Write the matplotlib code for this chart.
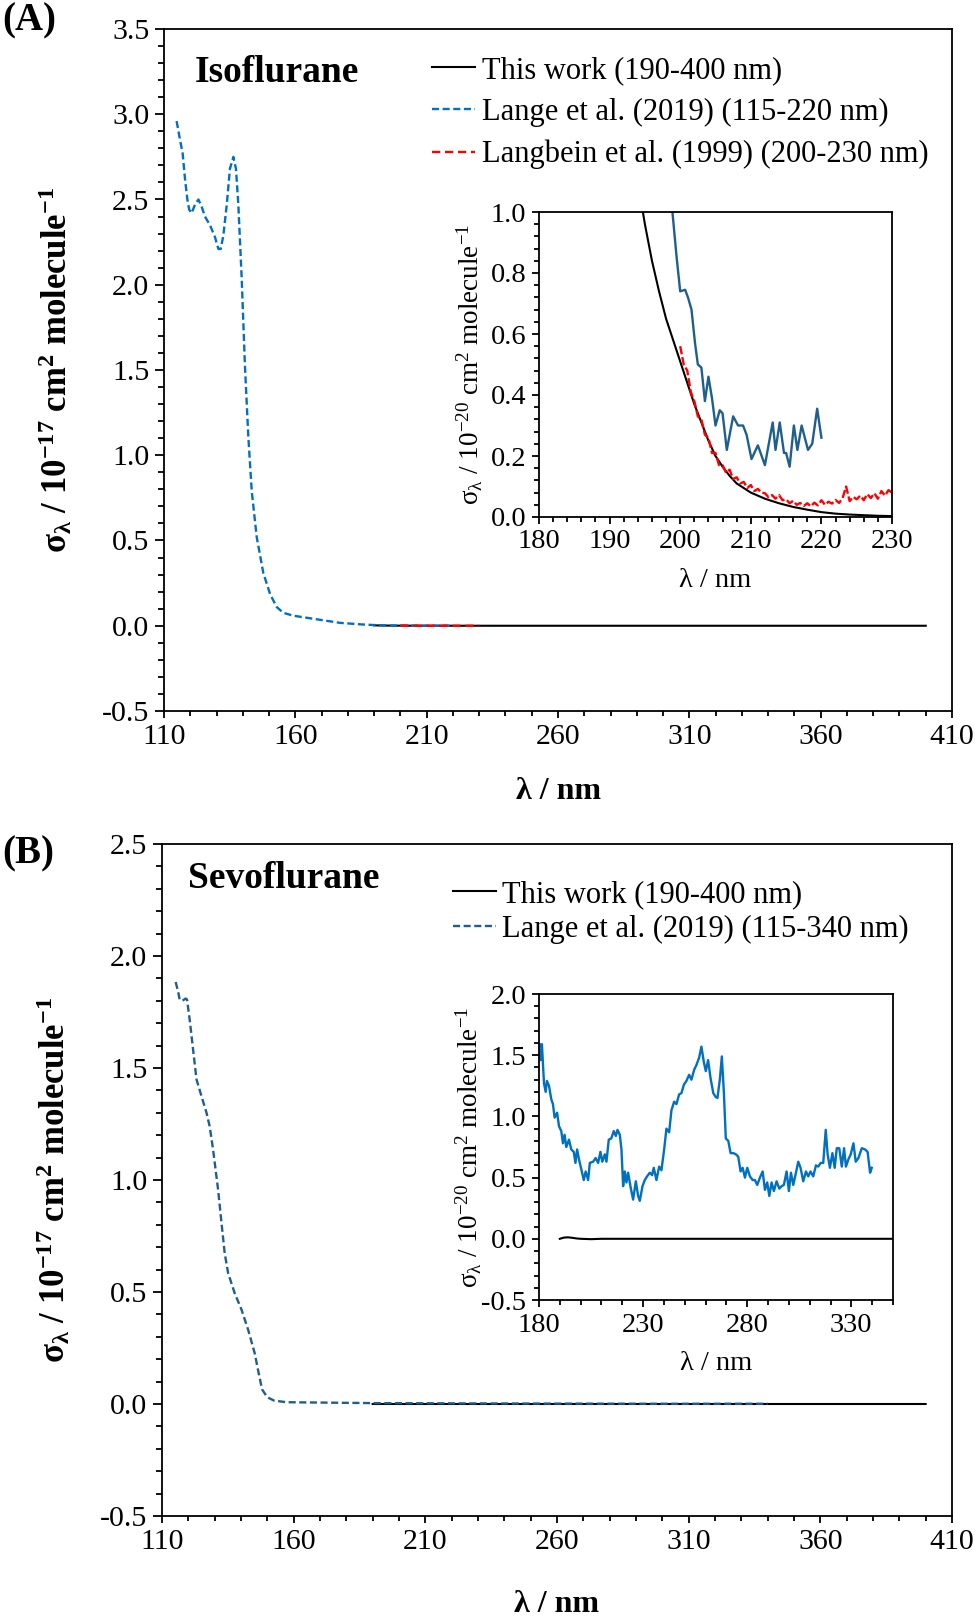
import matplotlib
matplotlib.use("Agg")
import matplotlib.pyplot as plt
from matplotlib.ticker import MultipleLocator, FormatStrFormatter

plt.rcParams['font.family'] = ['Liberation Serif', 'DejaVu Serif']
plt.rcParams['mathtext.fontset'] = 'custom'
plt.rcParams['mathtext.default'] = 'regular'
plt.rcParams['axes.unicode_minus'] = False

# ---------------- data ----------------
# (A) Isoflurane
# this work, units of 1e-20 cm2 molecule-1
iso_this_wl = [190, 192, 194, 195, 196, 197, 198, 199, 200, 201, 202, 203, 204, 205,
               206, 207, 208, 209, 210, 212, 214, 216, 218, 220, 222, 224, 226, 228,
               230, 250, 300, 350, 400]
iso_this = [2.3, 1.6, 1.1, 0.96, 0.84, 0.74, 0.65, 0.58, 0.51, 0.44, 0.37, 0.31, 0.25, 0.20,
            0.165, 0.135, 0.11, 0.095, 0.08, 0.06, 0.045, 0.033, 0.024, 0.016, 0.011, 0.008,
            0.006, 0.004, 0.003, 0.001, 0.0005, 0.0002, 0.0]

# Lange et al. (2019), units of 1e-17
lange_iso_wl = [114.8, 116.1, 117.1, 118.0, 118.9, 119.6, 120.5, 121.8, 123.1, 124.3, 125.6,
                127.5, 129.4, 130.7, 131.6, 132.6, 133.9, 135.1, 136.4, 137.4, 138.3, 139.6,
                140.8, 142.1, 143.4, 145.3, 147.8, 150.4, 152.9, 155.4, 159.2, 168.1, 177.0,
                185, 190, 195, 200, 210, 220]
lange_iso = [2.96, 2.85, 2.77, 2.62, 2.50, 2.44, 2.42, 2.47, 2.50, 2.46, 2.40,
             2.35, 2.28, 2.21, 2.21, 2.29, 2.47, 2.68, 2.75, 2.68, 2.47, 2.03,
             1.53, 1.11, 0.79, 0.52, 0.31, 0.185, 0.11, 0.076, 0.059, 0.038, 0.017,
             0.008, 0.004, 0.002, 0.0008, 0.0003, 0.0003]

# Lange et al. (2019) zoomed, units of 1e-20
lange_iso_zwl = [198.9, 199.5, 200.0, 200.7, 201.1, 201.6, 202.1, 202.5, 203.0, 203.5, 204.0,
                 204.5, 205.0, 205.6, 206.0, 206.6, 207.5, 208.2, 208.9, 209.4, 210.1, 211.0,
                 212.0, 213.1, 213.5, 214.1, 214.7, 215.0, 215.5, 216.1, 216.6, 217.2, 218.1,
                 218.7, 219.4, 220.0]
lange_iso_z = [1.0, 0.85, 0.74, 0.745, 0.72, 0.68, 0.57, 0.50, 0.49, 0.38, 0.46,
               0.39, 0.30, 0.35, 0.34, 0.22, 0.33, 0.30, 0.30, 0.27, 0.19, 0.235,
               0.17, 0.31, 0.22, 0.31, 0.21, 0.21, 0.165, 0.30, 0.22, 0.30, 0.22,
               0.24, 0.355, 0.26]

# Langbein et al. (1999), units of 1e-20
langbein_wl = [200.0, 200.5, 201.0, 201.5, 202.0, 202.5, 203.0, 203.5, 204.0, 204.5, 205.0,
               205.5, 206.0, 206.5, 207.0, 207.5, 208.0, 208.5, 209.0, 209.5, 210.0, 210.5,
               211.0, 211.5, 212.0, 212.5, 213.0, 213.5, 214.0, 214.5, 215.0, 215.5, 216.0,
               216.5, 217.0, 217.5, 218.0, 218.5, 219.0, 219.5, 220.0, 220.5, 221.0, 221.5,
               222.0, 222.5, 223.0, 223.5, 224.0, 224.5, 225.0, 225.5, 226.0, 226.5, 227.0,
               227.5, 228.0, 228.5, 229.0, 229.5, 230.0]
langbein = [0.56, 0.50, 0.48, 0.41, 0.38, 0.33, 0.32, 0.27, 0.26, 0.21, 0.21,
            0.17, 0.17, 0.145, 0.155, 0.125, 0.13, 0.11, 0.115, 0.095, 0.105, 0.085,
            0.092, 0.08, 0.078, 0.065, 0.072, 0.06, 0.072, 0.055, 0.058, 0.045, 0.053,
            0.04, 0.046, 0.036, 0.045, 0.035, 0.047, 0.038, 0.055, 0.04, 0.05, 0.044,
            0.056, 0.046, 0.062, 0.10, 0.052, 0.066, 0.058, 0.07, 0.055, 0.075, 0.062,
            0.078, 0.06, 0.085, 0.07, 0.088, 0.08]

# (B) Sevoflurane
sevo_this_wl = [190, 192, 194, 196, 198, 200, 205, 210, 220, 250, 300, 350, 400]
sevo_this = [0.0, 0.01, 0.012, 0.008, 0.003, 0.0, -0.003, 0.0, 0.0, 0.0, 0.0, 0.0, 0.0]

lange_sevo_wl = [115.2, 116.2, 116.7, 117.7, 119.0, 119.5, 120.5, 121.8, 123.1, 125.0, 126.9,
                 128.1, 129.4, 131.3, 132.6, 133.8, 135.1, 137.6, 140.2, 142.7, 145.2, 146.5,
                 148.0, 150.0, 152.6, 157.3, 173.7, 190, 250, 300, 340]
lange_sevo = [1.884, 1.836, 1.806, 1.80, 1.81, 1.806, 1.717, 1.583, 1.449, 1.374, 1.30,
              1.24, 1.136, 0.957, 0.808, 0.674, 0.585, 0.495, 0.421, 0.332, 0.227, 0.15,
              0.065, 0.03, 0.015, 0.008, 0.006, 0.004, 0.002, 0.001, 0.001]

lange_sevo_zwl = [180.3, 180.8, 181.4, 182.4, 183.2, 183.8, 184.8, 185.9, 186.7, 187.5, 188.7,
                  189.6, 190.7, 191.5, 192.3, 193.1, 194.4, 195.5, 196.7, 197.5, 198.3, 199.2,
                  200.4, 201.5, 202.4, 203.6, 204.4, 206.0, 207.2, 208.4, 209.5, 210.4, 211.6,
                  212.4, 213.5, 214.7, 215.9, 216.9, 217.7, 218.8, 219.6, 220.4, 221.2, 222.0,
                  222.8, 223.9, 225.2, 226.5, 227.6, 228.4, 229.7, 230.8, 231.9, 233.2, 234.3,
                  235.1, 236.4, 237.7, 238.8, 240.1, 241.2, 242.5, 243.6, 244.9, 246.0, 247.3,
                  248.4, 249.6, 250.8, 252.1, 253.2, 254.5, 255.6, 256.9, 258.0, 259.2, 260.1,
                  261.2, 262.4, 263.7, 264.8, 265.7, 266.9, 267.8, 268.8, 269.7, 270.9, 272.0,
                  273.3, 274.6, 275.7, 276.8, 277.8, 278.9, 280.0, 281.3, 282.6, 283.7, 284.8,
                  286.1, 287.4, 288.5, 289.6, 290.6, 291.7, 292.8, 294.1, 295.4, 296.5, 297.6,
                  298.9, 300.0, 301.0, 302.1, 303.4, 304.5, 305.6, 306.9, 308.2, 309.3, 310.4,
                  311.7, 313.0, 314.1, 315.3, 316.5, 317.7, 318.6, 319.7, 320.9, 322.0, 323.0,
                  324.2, 325.4, 326.5, 327.4, 328.6, 329.7, 331.0, 332.1, 333.4, 335.0, 336.6,
                  337.8, 339.0, 339.8]
lange_sevo_z = [1.59, 1.46, 1.59, 1.27, 1.20, 1.29, 1.25, 1.14, 1.10, 0.99, 1.03,
                0.92, 0.88, 0.78, 0.85, 0.75, 0.81, 0.73, 0.71, 0.62, 0.73, 0.65,
                0.56, 0.48, 0.55, 0.48, 0.62, 0.63, 0.66, 0.62, 0.71, 0.63, 0.69,
                0.63, 0.81, 0.82, 0.88, 0.84, 0.89, 0.85, 0.73, 0.43, 0.55, 0.46,
                0.54, 0.43, 0.32, 0.47, 0.35, 0.31, 0.43, 0.48, 0.51, 0.54, 0.52,
                0.58, 0.48, 0.59, 0.56, 0.73, 0.90, 0.87, 1.05, 1.12, 1.10, 1.18,
                1.19, 1.26, 1.29, 1.34, 1.30, 1.38, 1.42, 1.48, 1.57, 1.44, 1.37,
                1.46, 1.31, 1.19, 1.16, 1.15, 1.31, 1.49, 1.19, 0.82, 0.80, 0.70,
                0.70, 0.69, 0.67, 0.55, 0.58, 0.50, 0.58, 0.51, 0.48, 0.48, 0.44,
                0.50, 0.55, 0.40, 0.46, 0.35, 0.46, 0.39, 0.47, 0.41, 0.43, 0.44,
                0.55, 0.39, 0.54, 0.44, 0.54, 0.63, 0.58, 0.47, 0.55, 0.51, 0.55,
                0.51, 0.60, 0.59, 0.62, 0.62, 0.89, 0.69, 0.58, 0.70, 0.58, 0.74,
                0.74, 0.59, 0.74, 0.59, 0.65, 0.69, 0.78, 0.63, 0.66, 0.74, 0.73,
                0.71, 0.54, 0.58]

main_xticks = [110, 160, 210, 260, 310, 360, 410]
insB_xticks = [180, 230, 280, 330]

# ---------------- styling ----------------
c_black = 'black'
c_blue = '#0070C0'
c_teal = '#1F5F8B'
c_red = '#FF0000'
W, H = 975, 1619
tick_fs = 21.5
leg_fs = 22
lab_fs = 25
ins_fs = 20.5
ins_lab_fs = 19.5


def frac(x0, y0, x1, y1):
    # pixel box -> figure fraction rect
    return [x0 / W, 1 - y1 / H, (x1 - x0) / W, (y1 - y0) / H]


def style(ax, fs=tick_fs, ylen=5):
    for s in ax.spines.values():
        s.set_linewidth(1.3)
    ax.tick_params(which='major', direction='out', length=5, width=1.3, labelsize=fs, pad=4)
    ax.tick_params(which='minor', direction='out', length=3.5, width=1.3)
    ax.tick_params(axis='y', which='major', length=ylen)
    ax.tick_params(axis='y', which='minor', length=ylen * 0.7)
    ax.tick_params(top=False, right=False, which='both')


def scaled(vals, f):
    return [v * f for v in vals]


fig = plt.figure(figsize=(W / 100, H / 100), dpi=100)

# ---------------- (A) ----------------
axA = fig.add_axes(frac(164, 29, 952, 711))
axA.plot(iso_this_wl, scaled(iso_this, 1e-3), color=c_black, lw=1.5, label='This work (190-400 nm)')
axA.plot(lange_iso_wl, lange_iso, color=c_blue, lw=1.7, dashes=(3, 1.5),
         label='Lange et al. (2019) (115-220 nm)')
axA.plot(langbein_wl, scaled(langbein, 1e-3), color=c_red, lw=1.7, dashes=(3.5, 2),
         label='Langbein et al. (1999) (200-230 nm)')
axA.set_xlim(110, 410)
axA.set_ylim(-0.5, 3.5)
axA.set_xticks(main_xticks)
axA.xaxis.set_minor_locator(MultipleLocator(10))
axA.yaxis.set_major_locator(MultipleLocator(0.5))
axA.yaxis.set_minor_locator(MultipleLocator(0.1))
axA.yaxis.set_major_formatter(FormatStrFormatter('%.1f'))
style(axA, ylen=6.5)
axA.set_xlabel('λ / nm', fontsize=23, fontweight='bold')
axA.xaxis.set_label_coords(0.5, -0.097)
axA.set_ylabel('σ$_λ$ / 10$^{-17}$ cm$^2$ molecule$^{-1}$', fontsize=lab_fs, fontweight='bold')
axA.yaxis.set_label_coords(-0.113, 0.5)
axA.legend(loc='upper left', bbox_to_anchor=(432 / W, 1 - 56 / H), bbox_transform=fig.transFigure,
           frameon=False, fontsize=leg_fs, handlelength=1.4, handletextpad=0.25,
           borderpad=0, borderaxespad=0, labelspacing=0.42)

insA = fig.add_axes(frac(539, 212, 892, 517))
insA.plot(iso_this_wl, iso_this, color=c_black, lw=1.5)
insA.plot(lange_iso_zwl, lange_iso_z, color=c_teal, lw=1.7)
insA.plot(langbein_wl, langbein, color=c_red, lw=1.7, dashes=(3.5, 1.2))
insA.set_xlim(180, 230)
insA.set_ylim(0, 1.0)
insA.xaxis.set_major_locator(MultipleLocator(10))
insA.xaxis.set_minor_locator(MultipleLocator(2))
insA.yaxis.set_major_locator(MultipleLocator(0.2))
insA.yaxis.set_minor_locator(MultipleLocator(0.04))
insA.yaxis.set_major_formatter(FormatStrFormatter('%.1f'))
style(insA, fs=ins_fs)
insA.set_xlabel('λ / nm', fontsize=ins_fs, labelpad=10)
insA.set_ylabel('σ$_λ$ / 10$^{-20}$ cm$^2$ molecule$^{-1}$', fontsize=ins_lab_fs)

# ---------------- (B) ----------------
axB = fig.add_axes(frac(162, 844, 952, 1516))
axB.plot(sevo_this_wl, scaled(sevo_this, 1e-3), color=c_black, lw=1.5, label='This work (190-400 nm)')
axB.plot(lange_sevo_wl, lange_sevo, color=c_teal, lw=1.7, dashes=(3, 1.5),
         label='Lange et al. (2019) (115-340 nm)')
axB.set_xlim(110, 410)
axB.set_ylim(-0.5, 2.5)
axB.set_xticks(main_xticks)
axB.xaxis.set_minor_locator(MultipleLocator(10))
axB.yaxis.set_major_locator(MultipleLocator(0.5))
axB.yaxis.set_minor_locator(MultipleLocator(0.1))
axB.yaxis.set_major_formatter(FormatStrFormatter('%.1f'))
style(axB, ylen=6.5)
axB.set_xlabel('λ / nm', fontsize=23, fontweight='bold')
axB.xaxis.set_label_coords(0.5, -0.11)
axB.set_ylabel('σ$_λ$ / 10$^{-17}$ cm$^2$ molecule$^{-1}$', fontsize=lab_fs, fontweight='bold')
axB.yaxis.set_label_coords(-0.113, 0.5)
axB.legend(loc='upper left', bbox_to_anchor=(453 / W, 1 - 880 / H), bbox_transform=fig.transFigure,
           frameon=False, fontsize=leg_fs, handlelength=1.4, handletextpad=0.2,
           borderpad=0, borderaxespad=0, labelspacing=0.2)

insB = fig.add_axes(frac(539, 994, 893, 1300))
insB.plot(sevo_this_wl, sevo_this, color=c_black, lw=1.5)
insB.plot(lange_sevo_zwl, lange_sevo_z, color=c_blue, lw=1.7)
insB.set_xlim(180, 350)
insB.set_ylim(-0.5, 2.0)
insB.set_xticks(insB_xticks)
insB.xaxis.set_minor_locator(MultipleLocator(10))
insB.yaxis.set_major_locator(MultipleLocator(0.5))
insB.yaxis.set_minor_locator(MultipleLocator(0.1))
insB.yaxis.set_major_formatter(FormatStrFormatter('%.1f'))
style(insB, fs=ins_fs)
insB.set_xlabel('λ / nm', fontsize=ins_fs, labelpad=10)
insB.set_ylabel('σ$_λ$ / 10$^{-20}$ cm$^2$ molecule$^{-1}$', fontsize=ins_lab_fs, labelpad=-2)

# panel letters and compound names
fig.text(2 / W, 1 - 21 / H, '(A)', fontsize=28, fontweight='bold', va='center', ha='left')
fig.text(2 / W, 1 - 854 / H, '(B)', fontsize=28, fontweight='bold', va='center', ha='left')
fig.text(195 / W, 1 - 73 / H, 'Isoflurane', fontsize=27, fontweight='bold', va='center', ha='left')
fig.text(188 / W, 1 - 878 / H, 'Sevoflurane', fontsize=27, fontweight='bold', va='center', ha='left')

fig.savefig('out.png', dpi=100)
